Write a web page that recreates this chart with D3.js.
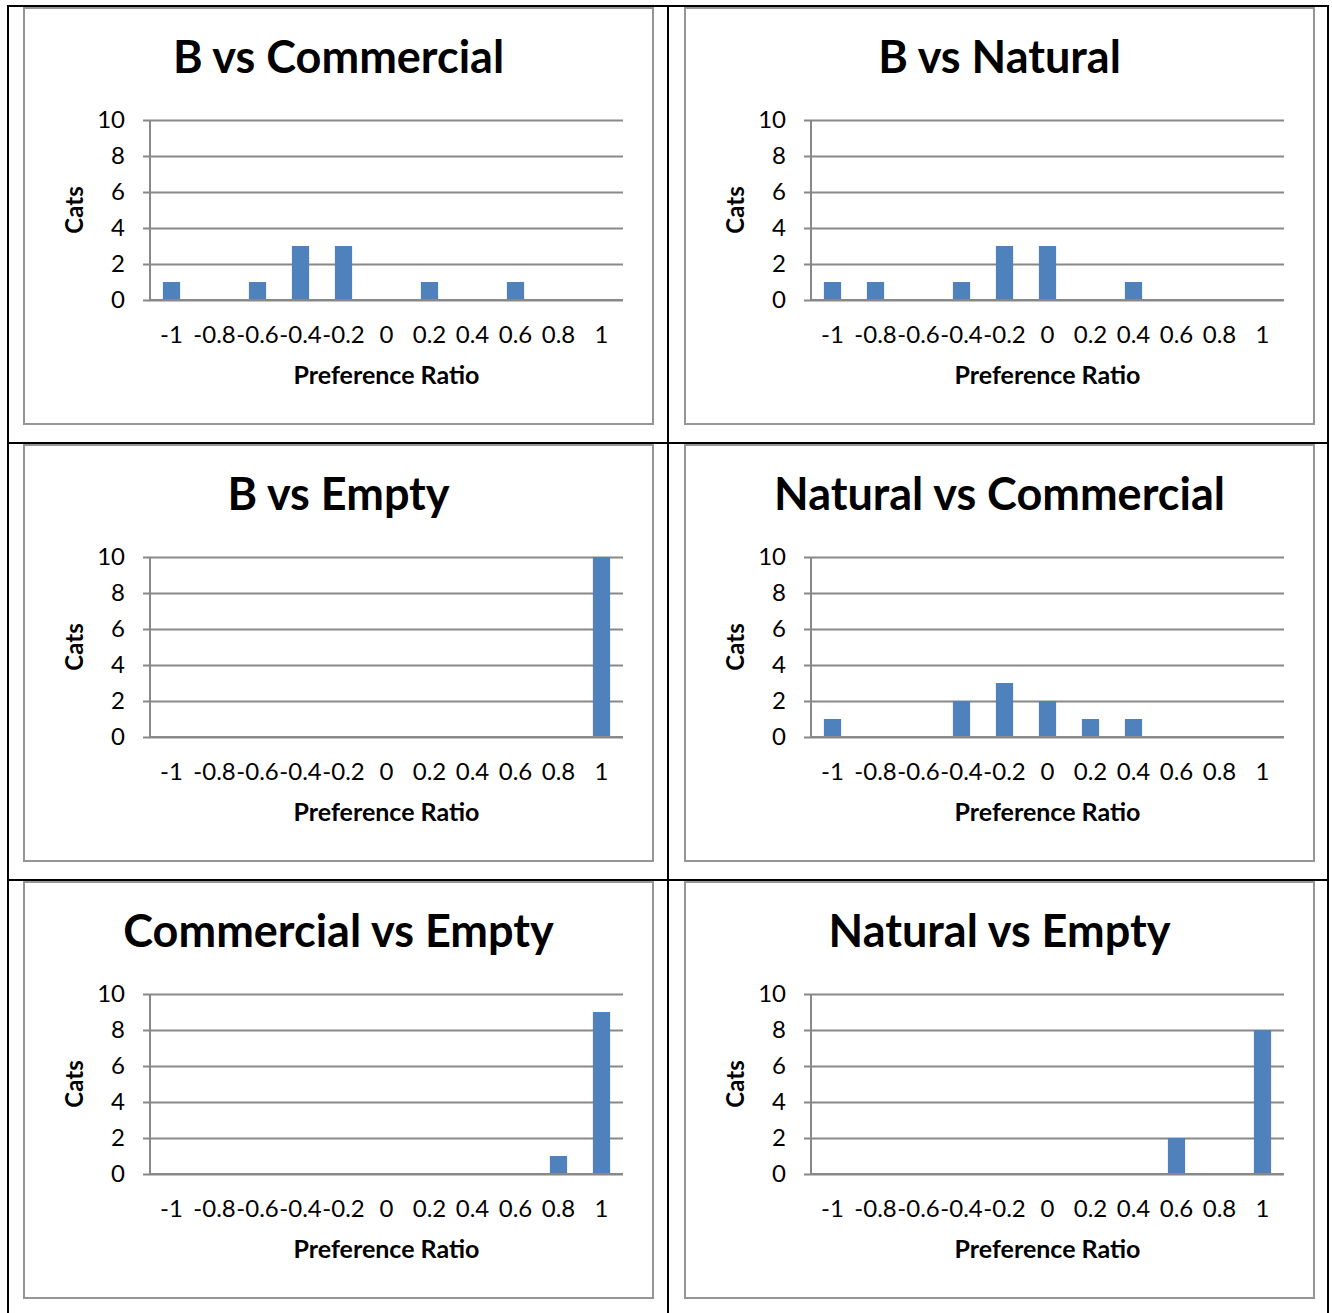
<!DOCTYPE html>
<html>
<head>
<meta charset="utf-8">
<script src="https://cdn.jsdelivr.net/npm/d3@7"></script>
<style>
  html, body { margin: 0; padding: 0; background: #fff; }
  svg { display: block; font-family: Lato, "Open Sans", sans-serif; }
</style>
</head>
<body>
<svg id="chart" width="1332" height="1313"></svg>
<script>
// Preference ratio bins (x categories)
const categories = ["-1", "-0.8", "-0.6", "-0.4", "-0.2", "0", "0.2", "0.4", "0.6", "0.8", "1"];

// Number of cats per bin, one list per comparison
const bVsCommercial       = [1, 0, 1, 3, 3, 0, 1, 0, 1, 0, 0];
const bVsNatural          = [1, 1, 0, 1, 3, 3, 0, 1, 0, 0, 0];
const bVsEmpty            = [0, 0, 0, 0, 0, 0, 0, 0, 0, 0, 10];
const naturalVsCommercial = [1, 0, 0, 2, 3, 2, 1, 1, 0, 0, 0];
const commercialVsEmpty   = [0, 0, 0, 0, 0, 0, 0, 0, 0, 1, 9];
const naturalVsEmpty      = [0, 0, 0, 0, 0, 0, 0, 0, 2, 0, 8];

const titles = ["B vs Commercial", "B vs Natural", "B vs Empty",
                "Natural vs Commercial", "Commercial vs Empty", "Natural vs Empty"];
const seriesList = [bVsCommercial, bVsNatural, bVsEmpty,
                    naturalVsCommercial, commercialVsEmpty, naturalVsEmpty];
const yTicks = [0, 2, 4, 6, 8, 10];
const xTitle = "Preference Ratio";
const yTitle = "Cats";

const svg = d3.select("#chart");

// Layout of the 2 x 3 table grid
const colX = [24, 685];
const rowY = [8, 445, 882];
const boxW = 629, boxH = 416;
const plot = { left: 126, right: 599, top: 112, bottom: 292 };

const gridColor = "#888888";
const barColor = "#4F81BD";

const x = d3.scaleBand().domain(categories)
  .range([plot.left, plot.right]).paddingInner(0.6).paddingOuter(0.3);
const y = d3.scaleLinear().domain([0, 10]).range([plot.bottom, plot.top]);

seriesList.forEach((values, i) => {
  const col = i % 2, row = Math.floor(i / 2);
  const g = svg.append("g").attr("transform", `translate(${colX[col]},${rowY[row]})`);

  // chart frame
  g.append("rect")
    .attr("x", 0).attr("y", 0).attr("width", boxW).attr("height", boxH)
    .attr("fill", "#fff").attr("stroke", "#959595").attr("stroke-width", 2);

  // title
  g.append("text")
    .attr("x", boxW / 2).attr("y", 65)
    .attr("text-anchor", "middle")
    .attr("font-size", 45).attr("font-weight", "bold").attr("fill", "#000")
    .text(titles[i]);

  // horizontal gridlines + y axis
  const yAxis = d3.axisLeft(y).tickValues(yTicks).tickSize(-(plot.right - plot.left)).tickPadding(25);
  const ya = g.append("g").attr("transform", `translate(${plot.left},0)`).call(yAxis);
  ya.select(".domain").remove();
  ya.selectAll(".tick line")
    .attr("x1", -7)
    .attr("stroke", gridColor).attr("stroke-width", 2);
  ya.selectAll(".tick text")
    .attr("font-family", "Lato, sans-serif")
    .attr("font-size", 24).attr("fill", "#000");

  g.append("line")
    .attr("x1", plot.left).attr("x2", plot.left)
    .attr("y1", plot.top).attr("y2", plot.bottom)
    .attr("stroke", gridColor).attr("stroke-width", 2);

  // bars
  g.append("g").selectAll("rect")
    .data(categories.map((c, k) => ({ c, v: values[k] })).filter(d => d.v > 0))
    .join("rect")
    .attr("x", d => x(d.c))
    .attr("width", x.bandwidth())
    .attr("y", d => y(d.v))
    .attr("height", d => y(0) - y(d.v))
    .attr("fill", barColor);

  // x axis
  const xAxis = d3.axisBottom(x).tickSize(0).tickPadding(0);
  const xa = g.append("g").attr("transform", `translate(0,${plot.bottom})`).call(xAxis);
  xa.select(".domain").remove();
  xa.selectAll(".tick text")
    .attr("font-family", "Lato, sans-serif")
    .attr("font-size", 24).attr("fill", "#000")
    .attr("dy", 0).attr("y", 43);

  g.append("line")
    .attr("x1", plot.left).attr("x2", plot.right)
    .attr("y1", plot.bottom).attr("y2", plot.bottom)
    .attr("stroke", gridColor).attr("stroke-width", 2);

  // axis titles
  g.append("text")
    .attr("x", (plot.left + plot.right) / 2).attr("y", 376)
    .attr("text-anchor", "middle")
    .attr("font-size", 25).attr("font-weight", "bold").attr("fill", "#000")
    .text(xTitle);

  g.append("text")
    .attr("transform", `translate(51,${(plot.top + plot.bottom) / 2}) rotate(-90)`)
    .attr("text-anchor", "middle").attr("dy", "0.35em")
    .attr("font-size", 24).attr("font-weight", "bold").attr("fill", "#000")
    .text(yTitle);
});

// table rules
const rules = svg.append("g").attr("stroke", "#000").attr("stroke-width", 2);
[8, 668, 1328].forEach(xv => rules.append("line")
  .attr("x1", xv).attr("x2", xv).attr("y1", 5).attr("y2", 1313));
[6, 443, 880].forEach(yv => rules.append("line")
  .attr("x1", 7).attr("x2", 1329).attr("y1", yv).attr("y2", yv));
</script>
</body>
</html>
